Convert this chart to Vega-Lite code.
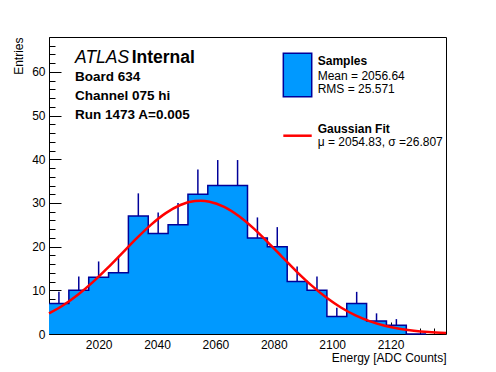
{
  "$schema": "https://vega.github.io/schema/vega-lite/v6.json",
  "width": 397,
  "height": 297,
  "autosize": {"type": "none"},
  "padding": {"left": 49, "top": 37, "right": 50, "bottom": 38},
  "background": "white",
  "config": {
    "view": {"stroke": "black", "strokeWidth": 1},
    "axis": {
      "labelFont": "Liberation Sans",
      "titleFont": "Liberation Sans",
      "labelFontSize": 12,
      "titleFontSize": 12,
      "titleFontWeight": "normal",
      "labelColor": "black",
      "titleColor": "black",
      "tickColor": "black",
      "tickWidth": 1,
      "domain": false,
      "grid": false
    },
    "text": {"font": "Liberation Sans", "align": "left", "baseline": "alphabetic", "color": "black"}
  },
  "datasets": {
    "bins": [
      {"lo": 2003.0, "hi": 2009.8, "c": 2006.4, "n": 7, "top": 9.65},
      {"lo": 2009.8, "hi": 2016.6, "c": 2013.2, "n": 10, "top": 13.16},
      {"lo": 2016.6, "hi": 2023.4, "c": 2020.0, "n": 13, "top": 16.61},
      {"lo": 2023.4, "hi": 2030.2, "c": 2026.8, "n": 14, "top": 17.74},
      {"lo": 2030.2, "hi": 2037.0, "c": 2033.6, "n": 27, "top": 32.2},
      {"lo": 2037.0, "hi": 2043.8, "c": 2040.4, "n": 23, "top": 27.8},
      {"lo": 2043.8, "hi": 2050.6, "c": 2047.2, "n": 25, "top": 30.0},
      {"lo": 2050.6, "hi": 2057.4, "c": 2054.0, "n": 32, "top": 37.66},
      {"lo": 2057.4, "hi": 2064.2, "c": 2060.8, "n": 34, "top": 39.83},
      {"lo": 2064.2, "hi": 2071.0, "c": 2067.6, "n": 34, "top": 39.83},
      {"lo": 2071.0, "hi": 2077.8, "c": 2074.4, "n": 22, "top": 26.69},
      {"lo": 2077.8, "hi": 2084.6, "c": 2081.2, "n": 20, "top": 24.47},
      {"lo": 2084.6, "hi": 2091.4, "c": 2088.0, "n": 12, "top": 15.46},
      {"lo": 2091.4, "hi": 2098.2, "c": 2094.8, "n": 10, "top": 13.16},
      {"lo": 2098.2, "hi": 2105.0, "c": 2101.6, "n": 4, "top": 6.0},
      {"lo": 2105.0, "hi": 2111.8, "c": 2108.4, "n": 7, "top": 9.65},
      {"lo": 2111.8, "hi": 2118.6, "c": 2115.2, "n": 3, "top": 4.73},
      {"lo": 2118.6, "hi": 2125.4, "c": 2122.0, "n": 2, "top": 3.41},
      {"lo": 2125.4, "hi": 2132.2, "c": 2128.8, "n": 0, "top": 0},
      {"lo": 2132.2, "hi": 2139.0, "c": 2135.6, "n": 0, "top": 0}
    ],
    "fit": [
      {"e": 2003, "f": 4.71}, {"e": 2008, "f": 6.63}, {"e": 2013, "f": 9.03},
      {"e": 2018, "f": 11.87}, {"e": 2023, "f": 15.07}, {"e": 2028, "f": 18.48},
      {"e": 2033, "f": 21.89}, {"e": 2038, "f": 25.04}, {"e": 2043, "f": 27.67},
      {"e": 2048, "f": 29.53}, {"e": 2053, "f": 30.43}, {"e": 2055, "f": 30.5},
      {"e": 2058, "f": 30.29}, {"e": 2063, "f": 29.12}, {"e": 2068, "f": 27.03},
      {"e": 2073, "f": 24.24}, {"e": 2078, "f": 20.99}, {"e": 2083, "f": 17.56},
      {"e": 2088, "f": 14.18}, {"e": 2093, "f": 11.07}, {"e": 2098, "f": 8.34},
      {"e": 2103, "f": 6.07}, {"e": 2108, "f": 4.27}, {"e": 2113, "f": 2.9},
      {"e": 2118, "f": 1.9}, {"e": 2123, "f": 1.2}, {"e": 2128, "f": 0.735},
      {"e": 2133, "f": 0.434}, {"e": 2139, "f": 0.22}
    ],
    "legendBox": [{"x1": 2083.27, "x2": 2093.0, "y1": 64.26, "y2": 54.33}],
    "legendLine": [{"x": 2083.27, "y": 45.4}, {"x": 2093.0, "y": 45.4}],
    "boldText": [
      {"x": 2031.33, "y": 61.97, "t": "Internal", "s": 17.5},
      {"x": 2011.91, "y": 57.92, "t": "Board 634", "s": 13.5},
      {"x": 2011.91, "y": 53.57, "t": "Channel 075 hi", "s": 13.5},
      {"x": 2011.91, "y": 49.22, "t": "Run 1473 A=0.005", "s": 13.5},
      {"x": 2095.05, "y": 61.52, "t": "Samples", "s": 12},
      {"x": 2095.05, "y": 45.95, "t": "Gaussian Fit", "s": 12}
    ],
    "plainText": [
      {"x": 2095.05, "y": 58.15, "t": "Mean = 2056.64", "s": 12},
      {"x": 2095.05, "y": 55.11, "t": "RMS = 25.571", "s": 12},
      {"x": 2095.05, "y": 43.04, "t": "μ = 2054.83, σ =26.807", "s": 12}
    ],
    "italicText": [
      {"x": 2011.91, "y": 61.97, "t": "ATLAS", "s": 17.5}
    ]
  },
  "resolve": {"axis": {"x": "independent", "y": "independent"}},
  "layer": [
    {
      "data": {"name": "bins"},
      "mark": {"type": "area", "interpolate": "step-after", "color": "#0099ff", "opacity": 1},
      "encoding": {
        "x": {
          "field": "lo", "type": "quantitative", "title": "Energy [ADC Counts]",
          "scale": {"domain": [2003, 2139], "nice": false, "zero": false},
          "axis": {
            "orient": "bottom",
            "titleAnchor": "end",
            "titlePadding": 2,
            "titleFontSize": 12,
            "values": [2020, 2040, 2060, 2080, 2100, 2120],
            "format": "d",
            "tickSize": -12,
            "labelPadding": 17,
            "labelFlush": false,
            "labelOverlap": false
          }
        },
        "y": {
          "field": "n", "type": "quantitative", "title": "Entries",
          "scale": {"domain": [0, 68], "nice": false, "zero": true},
          "axis": {
            "orient": "left",
            "titleAnchor": "end",
            "titlePadding": 6,
            "titleFontSize": 12,
            "values": [0, 10, 20, 30, 40, 50, 60],
            "tickSize": -12,
            "labelPadding": 16,
            "labelFlush": false,
            "labelOverlap": false
          }
        }
      }
    },
    {
      "data": {"name": "bins"},
      "mark": {"type": "line", "interpolate": "step-after", "color": "#000099", "strokeWidth": 1.5},
      "encoding": {
        "x": {
          "field": "lo", "type": "quantitative",
          "axis": {
            "orient": "bottom", "title": null, "labels": false, "tickSize": -6,
            "values": [2005, 2010, 2015, 2025, 2030, 2035, 2045, 2050, 2055, 2065, 2070, 2075, 2085, 2090, 2095, 2105, 2110, 2115, 2125, 2130, 2135]
          }
        },
        "y": {
          "field": "n", "type": "quantitative",
          "axis": {
            "orient": "left", "title": null, "labels": false, "tickSize": -6,
            "values": [2, 4, 6, 8, 12, 14, 16, 18, 22, 24, 26, 28, 32, 34, 36, 38, 42, 44, 46, 48, 52, 54, 56, 58, 62, 64, 66, 68]
          }
        }
      }
    },
    {
      "data": {"name": "bins"},
      "transform": [{"filter": "datum.n > 0"}],
      "mark": {"type": "rule", "color": "#000099", "strokeWidth": 1.5},
      "encoding": {
        "x": {"field": "c", "type": "quantitative", "axis": null},
        "y": {"field": "n", "type": "quantitative", "axis": null},
        "y2": {"field": "top"}
      }
    },
    {
      "data": {"name": "fit"},
      "mark": {"type": "line", "interpolate": "monotone", "color": "#ff0000", "strokeWidth": 2.5},
      "encoding": {
        "x": {"field": "e", "type": "quantitative", "axis": null},
        "y": {"field": "f", "type": "quantitative", "axis": null}
      }
    },
    {
      "data": {"name": "legendBox"},
      "mark": {"type": "rect", "fill": "#0099ff", "stroke": "#000099", "strokeWidth": 1.5},
      "encoding": {
        "x": {"field": "x1", "type": "quantitative", "axis": null},
        "x2": {"field": "x2"},
        "y": {"field": "y1", "type": "quantitative", "axis": null},
        "y2": {"field": "y2"}
      }
    },
    {
      "data": {"name": "legendLine"},
      "mark": {"type": "line", "color": "#ff0000", "strokeWidth": 2.5},
      "encoding": {
        "x": {"field": "x", "type": "quantitative", "axis": null},
        "y": {"field": "y", "type": "quantitative", "axis": null}
      }
    },
    {
      "data": {"name": "boldText"},
      "mark": {"type": "text", "fontWeight": "bold"},
      "encoding": {
        "x": {"field": "x", "type": "quantitative", "axis": null},
        "y": {"field": "y", "type": "quantitative", "axis": null},
        "text": {"field": "t"},
        "size": {"field": "s", "type": "quantitative", "scale": null}
      }
    },
    {
      "data": {"name": "plainText"},
      "mark": {"type": "text"},
      "encoding": {
        "x": {"field": "x", "type": "quantitative", "axis": null},
        "y": {"field": "y", "type": "quantitative", "axis": null},
        "text": {"field": "t"},
        "size": {"field": "s", "type": "quantitative", "scale": null}
      }
    },
    {
      "data": {"name": "italicText"},
      "mark": {"type": "text", "fontStyle": "italic"},
      "encoding": {
        "x": {"field": "x", "type": "quantitative", "axis": null},
        "y": {"field": "y", "type": "quantitative", "axis": null},
        "text": {"field": "t"},
        "size": {"field": "s", "type": "quantitative", "scale": null}
      }
    }
  ]
}
